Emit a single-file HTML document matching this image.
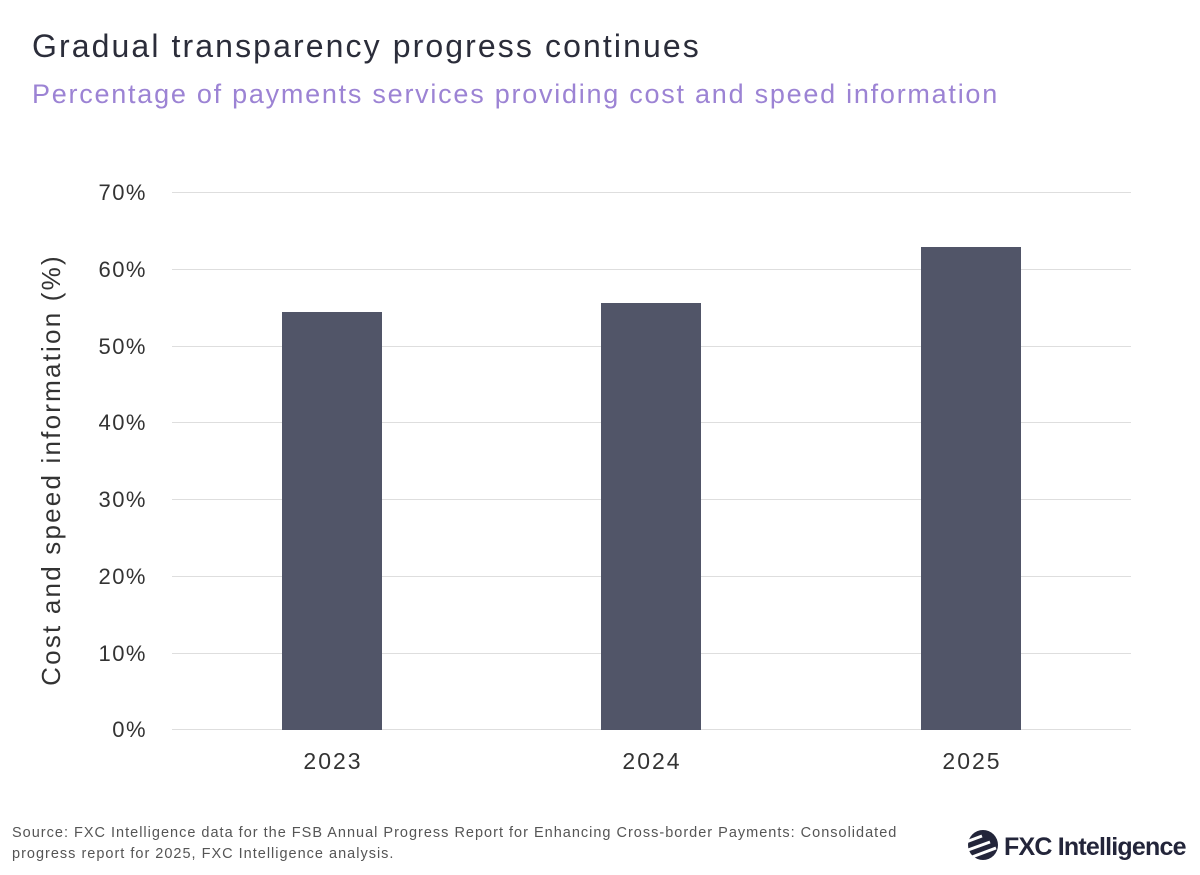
<!DOCTYPE html>
<html><head><meta charset="utf-8"><style>
body{margin:0;width:1200px;height:875px;background:#fff;font-family:"Liberation Sans",sans-serif;overflow:hidden;position:relative}
.t{position:absolute;white-space:nowrap}
</style></head><body>
<div class="t" style="left:32px;top:28px;font-size:32px;color:#2b2d3a;letter-spacing:2.1px">Gradual transparency progress continues</div>
<div class="t" style="left:32px;top:79px;font-size:27px;color:#9c83d4;letter-spacing:1.75px">Percentage of payments services providing cost and speed information</div>
<svg width="1200" height="875" style="position:absolute;left:0;top:0">
<g stroke="#dedede" stroke-width="1">
<line x1="172" x2="1131" y1="192.5" y2="192.5"/><line x1="172" x2="1131" y1="269.5" y2="269.5"/>
<line x1="172" x2="1131" y1="346.5" y2="346.5"/><line x1="172" x2="1131" y1="422.5" y2="422.5"/>
<line x1="172" x2="1131" y1="499.5" y2="499.5"/><line x1="172" x2="1131" y1="576.5" y2="576.5"/>
<line x1="172" x2="1131" y1="653.5" y2="653.5"/><line x1="172" x2="1131" y1="729.5" y2="729.5"/>
</g>
<g fill="#515568">
<rect x="282" y="312" width="100" height="418"/>
<rect x="601" y="303" width="100" height="427"/>
<rect x="921" y="247" width="100" height="483"/>
</g>
<g font-family="Liberation Sans" font-size="22" fill="#333" text-anchor="end" letter-spacing="1.5">
<text x="147" y="200">70%</text><text x="147" y="277">60%</text><text x="147" y="354">50%</text>
<text x="147" y="430">40%</text><text x="147" y="507">30%</text><text x="147" y="584">20%</text>
<text x="147" y="661">10%</text><text x="147" y="737">0%</text>
</g>
<g font-family="Liberation Sans" font-size="23" fill="#333" text-anchor="middle" letter-spacing="2">
<text x="333" y="769">2023</text><text x="652" y="769">2024</text><text x="972" y="769">2025</text>
</g>
<text transform="translate(60,470) rotate(-90)" font-family="Liberation Sans" font-size="26" fill="#333" text-anchor="middle" letter-spacing="2.2">Cost and speed information (%)</text>
<circle cx="983" cy="845" r="15" fill="#23253a"/>
<g stroke="#fff" stroke-width="3"><line x1="966" y1="842" x2="982" y2="836"/><line x1="968" y1="850" x2="990" y2="842"/><line x1="972" y1="857" x2="996" y2="848"/></g>
<text x="1004" y="855" font-family="Liberation Sans" font-size="25" font-weight="bold" fill="#23253a" letter-spacing="-0.8">FXC Intelligence</text>
</svg>
<div class="t" style="left:12px;top:823px;font-size:14.5px;line-height:21px;color:#555;letter-spacing:1px">Source: FXC Intelligence data for the FSB Annual Progress Report for Enhancing Cross-border Payments: Consolidated<br>progress report for 2025, FXC Intelligence analysis.</div>
</body></html>
